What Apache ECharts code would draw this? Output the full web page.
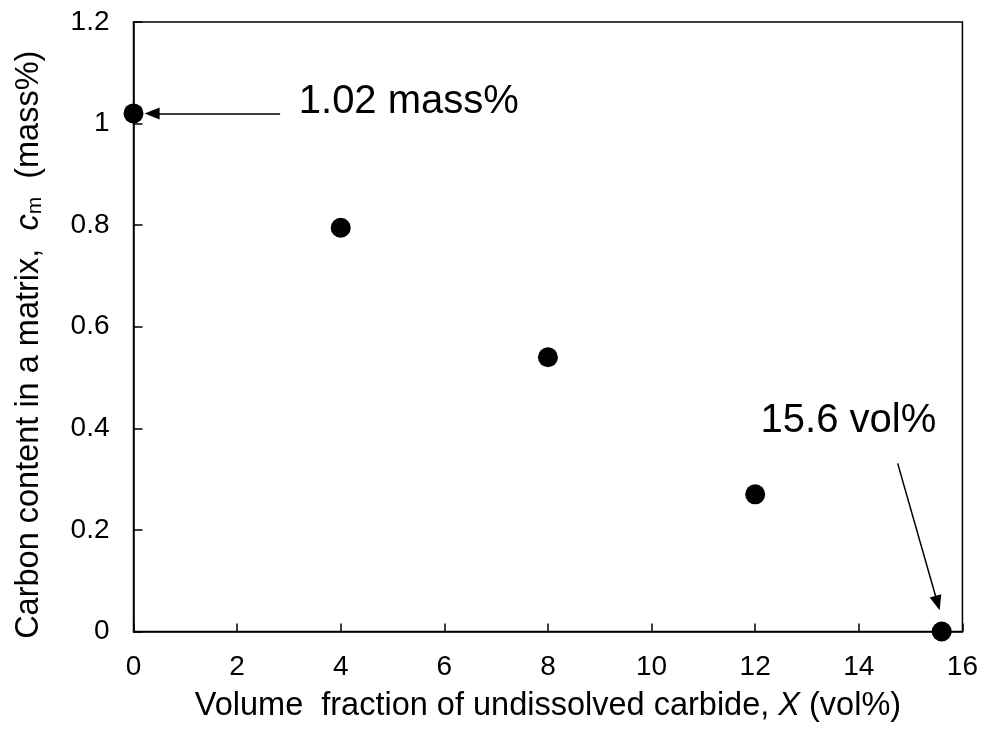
<!DOCTYPE html>
<html>
<head>
<meta charset="utf-8">
<script src="https://cdn.jsdelivr.net/npm/echarts@6/dist/echarts.min.js"></script>
<style>
  html, body { margin: 0; padding: 0; background: #fff; }
  #chart { width: 981px; height: 729px; }
</style>
</head>
<body>
<div id="chart"></div>
<script>
// Carbide volume fraction (vol%) and matrix carbon content (mass%)
const carbideVol = [0, 4, 8, 12, 15.6];
const matrixCarbon = [1.02, 0.795, 0.54, 0.27, 0];

// Axis ranges and tick steps
const xRange = [0, 16], xStep = 2;
const yRange = [0, 1.2], yStep = 0.2;

// Annotation texts
const noteCarbon = '1.02 mass%';
const noteVolume = '15.6 vol%';

const FONT = '"Liberation Sans", Arial, sans-serif';
const INK = '#000';

const chart = echarts.init(document.getElementById('chart'), null, { renderer: 'canvas' });

chart.setOption({
  backgroundColor: '#fff',
  animation: false,
  grid: {
    left: 133.5, right: 18, top: 22, bottom: 97.5,
    show: true, borderColor: INK, borderWidth: 1.5, backgroundColor: 'transparent'
  },
  xAxis: {
    type: 'value', min: xRange[0], max: xRange[1], interval: xStep,
    name: 'Volume  fraction of undissolved carbide, {i|X} (vol%)',
    nameLocation: 'middle', nameGap: 58,
    nameTextStyle: {
      fontFamily: FONT, fontSize: 32.5, color: INK,
      rich: { i: { fontFamily: FONT, fontSize: 32.5, fontStyle: 'italic', color: INK } }
    },
    axisLine: { show: true, onZero: false, lineStyle: { color: INK, width: 1.5 } },
    axisTick: { show: true, inside: true, length: 8, lineStyle: { color: INK, width: 1.5 } },
    axisLabel: { fontFamily: FONT, fontSize: 28, color: INK, margin: 22 },
    splitLine: { show: false }
  },
  yAxis: {
    type: 'value', min: yRange[0], max: yRange[1], interval: yStep,
    name: 'Carbon content in a matrix,  {i|c}{s|m}  (mass%)',
    nameLocation: 'middle', nameGap: 88, nameRotate: 90,
    nameTextStyle: {
      fontFamily: FONT, fontSize: 32.5, color: INK,
      padding: [0, 36, 0, 0],
      rich: {
        i: { fontFamily: FONT, fontSize: 32.5, fontStyle: 'italic', color: INK },
        s: { fontFamily: FONT, fontSize: 21, color: INK, verticalAlign: 'bottom', padding: [7, 0, 0, 0] }
      }
    },
    axisLine: { show: true, onZero: false, lineStyle: { color: INK, width: 1.5 } },
    axisTick: { show: true, inside: true, length: 9, lineStyle: { color: INK, width: 1.5 } },
    axisLabel: { fontFamily: FONT, fontSize: 28, color: INK, margin: 24 },
    splitLine: { show: false }
  },
  series: [{
    type: 'scatter',
    data: carbideVol.map((x, i) => [x, matrixCarbon[i]]),
    symbol: 'circle',
    symbolSize: 20,
    itemStyle: { color: INK, opacity: 1 },
    z: 5,
    markLine: {
      silent: true,
      animation: false,
      lineStyle: { color: INK, width: 1.5, type: 'solid', opacity: 1 },
      label: { show: false },
      symbol: ['none', 'triangle'],
      symbolSize: [12, 15],
      data: [
        [{ coord: [2.83, matrixCarbon[0]] }, { coord: [0.36, matrixCarbon[0]] }],
        [{ coord: [14.75, 0.331] }, { coord: [15.52, 0.056] }]
      ]
    },
    markPoint: {
      silent: true,
      animation: false,
      symbol: 'circle',
      symbolSize: 0,
      data: [
        {
          coord: [3.19, 1.042],
          label: { show: true, position: 'inside', formatter: noteCarbon, align: 'left',
                   verticalAlign: 'middle', fontFamily: FONT, fontSize: 40, color: INK }
        },
        {
          coord: [13.8, 0.415],
          label: { show: true, position: 'inside', formatter: noteVolume, align: 'center',
                   verticalAlign: 'middle', fontFamily: FONT, fontSize: 40, color: INK }
        }
      ]
    }
  }]
});
</script>
</body>
</html>
